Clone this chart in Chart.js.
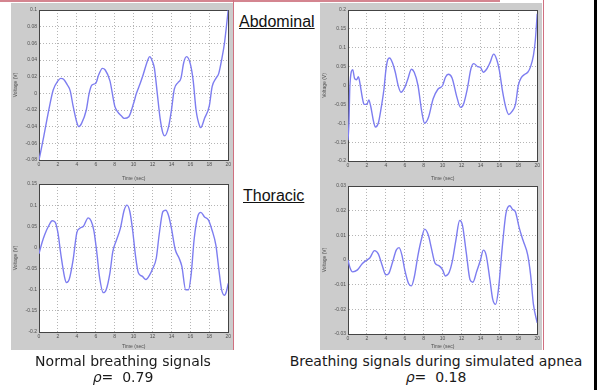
<!DOCTYPE html>
<html>
<head>
<meta charset="utf-8">
<script src="https://cdn.jsdelivr.net/npm/chart.js@4/dist/chart.umd.min.js"></script>
<style>
  body { margin: 0; width: 597px; height: 390px; position: relative; overflow: hidden; background: #fff; }
  .abs { position: absolute; }
  .gray { background: #cccccc; }
  canvas { position: absolute; }
  .label { font-family: "Liberation Sans", Arial, sans-serif; font-size: 16px; color: #111; text-decoration: underline; }
  .cap { font-family: "DejaVu Sans", sans-serif; font-size: 14px; color: #1a1a1a; text-align: center; line-height: 16px; }
</style>
</head>
<body>
<div class="abs" style="left:0;top:0;width:500px;height:2px;background:#d48590"></div>
<div class="abs gray" style="left:11px;top:3px;width:222px;height:347px"></div>
<div class="abs gray" style="left:320px;top:3px;width:222px;height:347px"></div>
<div class="abs" style="left:233px;top:0;width:1px;height:350px;background:#d07080"></div>
<div class="abs" style="left:543px;top:0;width:1px;height:350px;background:#d07080"></div>
<div class="abs" style="left:594px;top:0;width:3px;height:390px;background:#000"></div>

<canvas id="abdNormal" width="222" height="179" style="left:11px;top:3px"></canvas>
<canvas id="thorNormal" width="222" height="174" style="left:11px;top:176px"></canvas>
<canvas id="abdApnea" width="222" height="179" style="left:320px;top:3px"></canvas>
<canvas id="thorApnea" width="222" height="174" style="left:320px;top:176px"></canvas>

<div class="abs label" style="left:239px;top:13px">Abdominal</div>
<div class="abs label" style="left:243px;top:187px">Thoracic</div>

<div class="abs cap" style="left:0;top:353px;width:246px">Normal breathing signals<br><i>ρ</i>=&nbsp; 0.79</div>
<div class="abs cap" style="left:276px;top:353px;width:320px">Breathing signals during simulated apnea<br><i>ρ</i>=&nbsp; 0.18</div>

<script>
// time axis shared by all four panels
const timeTicks = [0, 2, 4, 6, 8, 10, 12, 14, 16, 18, 20];

// abdominal, normal breathing
const tAbdNormal = [0, 0.5, 1, 1.5, 2, 2.3, 2.6, 3, 3.3, 3.6, 4, 4.2, 4.5, 5, 5.3, 5.6, 6, 6.3, 6.7, 7, 7.5, 8, 8.3, 8.7, 9, 9.5, 10, 10.3, 10.7, 11, 11.5, 11.7, 12, 12.2, 12.5, 12.8, 13.1, 13.3, 13.7, 14, 14.3, 14.7, 15, 15.3, 15.6, 16, 16.3, 16.6, 17, 17.1, 17.5, 18, 18.3, 18.7, 19, 19.3, 19.6, 20];
const vAbdNormal = [-0.08, -0.052, -0.022, 0.004, 0.015, 0.018, 0.017, 0.01, 0.003, -0.015, -0.035, -0.04, -0.036, -0.02, 0.0, 0.01, 0.012, 0.022, 0.03, 0.028, 0.015, -0.015, -0.022, -0.027, -0.03, -0.028, -0.012, 0.0, 0.012, 0.022, 0.04, 0.044, 0.038, 0.03, 0.0, -0.03, -0.048, -0.051, -0.04, -0.02, 0.005, 0.013, 0.018, 0.037, 0.044, 0.035, 0.015, -0.02, -0.04, -0.041, -0.03, -0.015, 0.008, 0.018, 0.024, 0.04, 0.06, 0.1];
const yTicksAbdNormal = [-0.08, -0.06, -0.04, -0.02, 0, 0.02, 0.04, 0.06, 0.08, 0.1];

// abdominal, simulated apnea
const tAbdApnea = [0, 0.1, 0.2, 0.5, 0.7, 0.9, 1.1, 1.3, 1.5, 1.7, 2, 2.2, 2.4, 2.7, 2.9, 3.2, 3.5, 3.8, 4, 4.2, 4.4, 4.7, 5, 5.3, 5.6, 6, 6.3, 6.7, 7, 7.4, 7.8, 8.1, 8.5, 9, 9.5, 10, 10.3, 10.6, 11, 11.5, 11.9, 12.2, 12.6, 13, 13.3, 13.7, 14, 14.3, 14.7, 15, 15.4, 15.7, 16, 16.3, 16.7, 17, 17.3, 17.7, 18, 18.3, 18.7, 19, 19.3, 19.6, 19.8, 20];
const vAbdApnea = [-0.145, -0.1, 0.0, 0.042, 0.018, 0.015, 0.023, 0.0, -0.03, -0.05, -0.05, -0.038, -0.055, -0.095, -0.11, -0.1, -0.06, -0.01, 0.04, 0.068, 0.073, 0.06, 0.035, 0.0, -0.018, -0.005, 0.015, 0.043, 0.035, 0.0, -0.07, -0.1, -0.085, -0.035, -0.01, 0.0, 0.022, 0.03, 0.02, -0.03, -0.058, -0.05, -0.01, 0.045, 0.058, 0.05, 0.048, 0.035, 0.045, 0.06, 0.083, 0.07, 0.04, -0.01, -0.06, -0.077, -0.07, -0.05, 0.0, 0.02, 0.03, 0.035, 0.05, 0.08, 0.12, 0.19];
const yTicksAbdApnea = [-0.2, -0.15, -0.1, -0.05, 0, 0.05, 0.1, 0.15, 0.2];

// thoracic, normal breathing
const tThorNormal = [0, 0.3, 0.6, 1, 1.4, 1.7, 2, 2.3, 2.7, 2.9, 3.2, 3.6, 4, 4.3, 4.7, 5.2, 5.5, 5.8, 6.1, 6.4, 6.8, 7.1, 7.5, 7.8, 8.2, 8.6, 9, 9.3, 9.6, 9.9, 10.2, 10.5, 10.9, 11.3, 11.7, 12, 12.4, 12.7, 13.1, 13.4, 13.7, 14, 14.4, 14.8, 15.1, 15.5, 15.8, 16.1, 16.4, 16.8, 17.1, 17.5, 17.9, 18.3, 18.7, 19, 19.3, 19.6, 19.8, 20];
const vThorNormal = [-0.015, 0.01, 0.03, 0.05, 0.063, 0.06, 0.035, -0.015, -0.07, -0.083, -0.075, -0.03, 0.035, 0.045, 0.05, 0.07, 0.063, 0.04, -0.01, -0.07, -0.107, -0.1, -0.06, -0.01, 0.018, 0.045, 0.088, 0.1, 0.085, 0.04, -0.02, -0.06, -0.068, -0.076, -0.065, -0.051, -0.025, 0.03, 0.085, 0.088, 0.075, 0.045, -0.005, -0.025, -0.045, -0.1, -0.1, -0.06, 0.02, 0.075, 0.083, 0.072, 0.065, 0.04, 0.005, -0.05, -0.1, -0.113, -0.105, -0.085];
const yTicksThorNormal = [-0.2, -0.15, -0.1, -0.05, 0, 0.05, 0.1, 0.15];

// thoracic, simulated apnea
const tThorApnea = [0, 0.2, 0.5, 1, 1.5, 2, 2.3, 2.8, 3.2, 3.6, 4, 4.3, 4.7, 5.1, 5.4, 5.7, 6, 6.4, 6.7, 7, 7.4, 7.8, 8.1, 8.5, 8.8, 9.2, 9.6, 10, 10.3, 10.7, 11, 11.4, 11.8, 12.1, 12.5, 12.9, 13.2, 13.6, 14, 14.3, 14.6, 15, 15.3, 15.6, 15.9, 16.3, 16.7, 17.1, 17.4, 17.7, 18.1, 18.5, 19, 19.3, 19.6, 20];
const vThorApnea = [0.0, -0.003, -0.0048, -0.004, -0.0015, 0.0, 0.0008, 0.0038, 0.0025, -0.002, -0.006, -0.0055, -0.001, 0.004, 0.005, 0.002, -0.004, -0.0095, -0.0105, -0.007, 0.002, 0.009, 0.0125, 0.01, 0.005, -0.0013, -0.0023, -0.004, -0.0065, -0.005, -0.001, 0.008, 0.016, 0.014, 0.003, -0.008, -0.009, -0.0047, 0.0, 0.004, 0.002, -0.008, -0.016, -0.018, -0.012, 0.005, 0.019, 0.022, 0.0205, 0.0195, 0.013, 0.008, 0.002, -0.006, -0.018, -0.0255];
const yTicksThorApnea = [-0.03, -0.02, -0.01, 0, 0.01, 0.02, 0.03];

const LINE_COLOR = "#7d7df0";
const TEXT_COLOR = "#505050";
const FONT = "'Liberation Sans', Arial, sans-serif";

// white axes face + MATLAB-style closed box
const boxPlugin = {
  id: "axesBox",
  beforeDraw(chart) {
    const { ctx, chartArea: a } = chart;
    ctx.save();
    ctx.fillStyle = "#fff";
    ctx.fillRect(a.left, a.top, a.width, a.height);
    ctx.restore();
  },
  beforeDatasetsDraw(chart) {
    const { ctx, chartArea: a } = chart;
    ctx.save();
    ctx.strokeStyle = "#444";
    ctx.lineWidth = 1;
    ctx.strokeRect(Math.round(a.left) + 0.5, Math.round(a.top) + 0.5, Math.round(a.width), Math.round(a.height));
    ctx.restore();
  },
};

function makePanel(id, times, volts, yTicks, box) {
  const ctx = document.getElementById(id);
  const tickFont = { family: FONT, size: 5 };
  const grid = { color: "rgba(90,90,90,0.45)", lineWidth: 1, drawTicks: false };
  const border = { color: "#444", width: 1, dash: [1, 2] };

  return new Chart(ctx, {
    type: "line",
    data: {
      datasets: [{
        data: times.map((t, i) => ({ x: t, y: volts[i] })),
        borderColor: LINE_COLOR,
        borderWidth: 1.4,
        pointRadius: 0,
        cubicInterpolationMode: "monotone",
        fill: false,
      }],
    },
    options: {
      responsive: false,
      animation: false,
      devicePixelRatio: 1,
      layout: { padding: { left: 0, right: box.right, top: box.top, bottom: 0 } },
      plugins: { legend: { display: false }, tooltip: { enabled: false } },
      scales: {
        x: {
          type: "linear",
          min: timeTicks[0],
          max: timeTicks[timeTicks.length - 1],
          afterBuildTicks: (s) => { s.ticks = timeTicks.map((v) => ({ value: v })); },
          afterFit: (s) => { s.height = box.bottom; },
          ticks: { font: tickFont, color: TEXT_COLOR, padding: 2, maxRotation: 0, autoSkip: false, callback: (v) => String(v) },
          grid,
          border,
          title: { display: true, text: "Time (sec)", font: tickFont, color: TEXT_COLOR, padding: { top: 1, bottom: 0 } },
        },
        y: {
          min: yTicks[0],
          max: yTicks[yTicks.length - 1],
          afterBuildTicks: (s) => { s.ticks = yTicks.map((v) => ({ value: v })); },
          afterFit: (s) => { s.width = box.left; },
          ticks: { font: tickFont, color: TEXT_COLOR, padding: 2, autoSkip: false, callback: (v) => String(v) },
          grid,
          border,
          title: { display: true, text: "Voltage (V)", font: tickFont, color: TEXT_COLOR, padding: { top: 2, bottom: 0 } },
        },
      },
    },
    plugins: [boxPlugin],
  });
}

makePanel("abdNormal", tAbdNormal, vAbdNormal, yTicksAbdNormal, { left: 28, right: 4, top: 7, bottom: 22 });
makePanel("abdApnea", tAbdApnea, vAbdApnea, yTicksAbdApnea, { left: 28, right: 4, top: 7, bottom: 21 });
makePanel("thorNormal", tThorNormal, vThorNormal, yTicksThorNormal, { left: 28, right: 4, top: 8, bottom: 18 });
makePanel("thorApnea", tThorApnea, vThorApnea, yTicksThorApnea, { left: 28, right: 4, top: 10, bottom: 16 });
</script>
</body>
</html>
